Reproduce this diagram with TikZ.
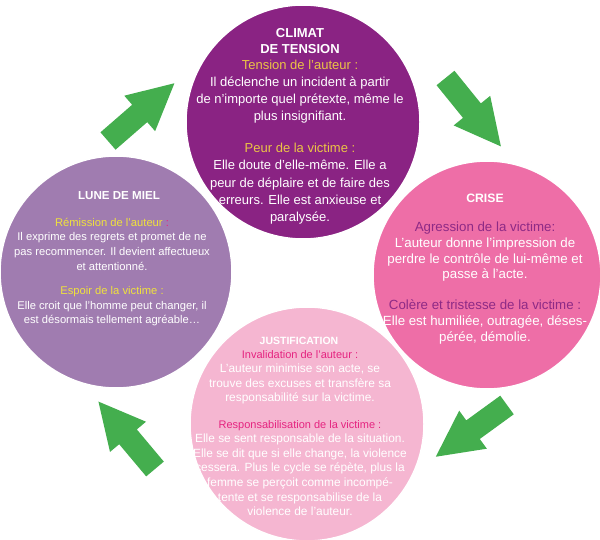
\documentclass[tikz,border=0pt]{standalone}
\usepackage{fontspec}
\setmainfont{Liberation Sans}
\usetikzlibrary{calc}

\definecolor{ClimatCol}{RGB}{138,35,131}
\definecolor{CriseCol}{RGB}{238,110,167}
\definecolor{LuneCol}{RGB}{160,124,176}
\definecolor{JustifCol}{RGB}{245,182,209}
\definecolor{ArrowGreen}{RGB}{68,174,78}
\definecolor{GoldTxt}{RGB}{236,196,70}
\definecolor{YellowTxt}{RGB}{240,226,60}
\definecolor{PurpleTxt}{RGB}{142,42,134}
\definecolor{MagentaTxt}{RGB}{229,36,128}

\tikzset{
  phase/.style={circle, draw=white, line width=1.5pt, inner sep=0pt},
  phasetitle/.style={text=white, font=\bfseries, align=center, inner sep=0pt},
  phasetext/.style={text=white, align=center, inner sep=0pt},
}

\begin{document}
\begin{tikzpicture}[x=1pt,y=-1pt]
    \fill[white] (0,0) rectangle (600,540);
    \useasboundingbox (0,0) rectangle (600,540);% Fixes the page size
    \coordinate (ClimatCenter) at (303,122);
    \coordinate (CriseCenter)  at (487,275);
    \coordinate (JustifCenter) at (307,424);
    \coordinate (LuneCenter)   at (116,272);
    % The four phases of the cycle
    \node[phase, fill=LuneCol,   minimum size=232pt] (Lune)   at (LuneCenter) {};
    \node[phase, fill=ClimatCol, minimum size=234pt] (Climat) at (ClimatCenter) {};
    \node[phase, fill=CriseCol,  minimum size=228pt] (Crise)  at (CriseCenter) {};
    \node[phase, fill=JustifCol, minimum size=234pt] (Justif) at (JustifCenter) {};
    % Green arrows between the phases
    \foreach \tx/\ty/\ang in {108/141/41, 445.5/78/-51, 507/405/216, 155/469/130}{%
      \fill[ArrowGreen, shift={(\tx,\ty)}, rotate=\ang]
        (0,-11.5) -- (42,-11.5) -- (42,-23.5) -- (88,0) -- (42,23.5) -- (42,11.5) -- (0,11.5) -- cycle;
    }
    % Texts
    \node[phasetitle, font=\bfseries\fontsize{13}{16}\selectfont] (ClimatTitle) at (300,41)
      {CLIMAT\\DE TENSION};
    \node[phasetext, font=\fontsize{13}{17.1}\selectfont] (ClimatText) at (300,142)
      {\textcolor{GoldTxt}{Tension de l’auteur :}\\
       Il déclenche un incident à partir\\
       de n’importe quel prétexte, même le\\
       plus insignifiant.\\[15pt]
       \textcolor{GoldTxt}{Peur de la victime :}\\
       Elle doute d’elle-même. Elle a\\
       peur de déplaire et de faire des\\
       erreurs. Elle est anxieuse et\\
       paralysée.};
    \node[phasetitle, font=\bfseries\fontsize{12.2}{15}\selectfont] (CriseTitle) at (485,198) {CRISE};
    \node[phasetext, font=\fontsize{13.3}{15.8}\selectfont] (CriseText) at (485,283)
      {\textcolor{PurpleTxt}{Agression de la victime:}\\
       L’auteur donne l’impression de\\
       perdre le contrôle de lui-même et\\
       passe à l’acte.\\[15pt]
       \textcolor{PurpleTxt}{Colère et tristesse de la victime :}\\
       Elle est humiliée, outragée, déses-\\
       pérée, démolie.};
    \node[phasetitle, font=\bfseries\fontsize{11.6}{14}\selectfont] (LuneTitle) at (119,196) {LUNE DE MIEL};
    \node[phasetext, font=\fontsize{11.2}{14.8}\selectfont] (LuneText) at (112,272)
      {\textcolor{YellowTxt}{Rémission de l’auteur }\textcolor{MagentaTxt}{:}\\
       Il exprime des regrets et promet de ne\\
       pas recommencer. Il devient affectueux\\
       et attentionné.\\[9pt]
       \textcolor{YellowTxt}{Espoir de la victime :}\\
       Elle croit que l’homme peut changer, il\\
       est désormais tellement agréable…};
    \node[phasetitle, font=\bfseries\fontsize{10.5}{13}\selectfont] (JustifTitle) at (299,341) {JUSTIFICATION};
    \node[phasetext, font=\fontsize{11.9}{14.6}\selectfont] (JustifText) at (300,433)
      {{\fontsize{11}{14.6}\selectfont\textcolor{MagentaTxt}{Invalidation de l’auteur :}}\\
       L’auteur minimise son acte, se\\
       trouve des excuses et transfère sa\\
       responsabilité sur la victime.\\[11.5pt]
       {\fontsize{11}{14.6}\selectfont\textcolor{MagentaTxt}{Responsabilisation de la victime :}}\\
       Elle se sent responsable de la situation.\\
       Elle se dit que si elle change, la violence\\
       cessera. Plus le cycle se répète, plus la\\
       femme se perçoit comme incompé-\\
       tente et se responsabilise de la\\
       violence de l’auteur.};
\end{tikzpicture}
\end{document}
